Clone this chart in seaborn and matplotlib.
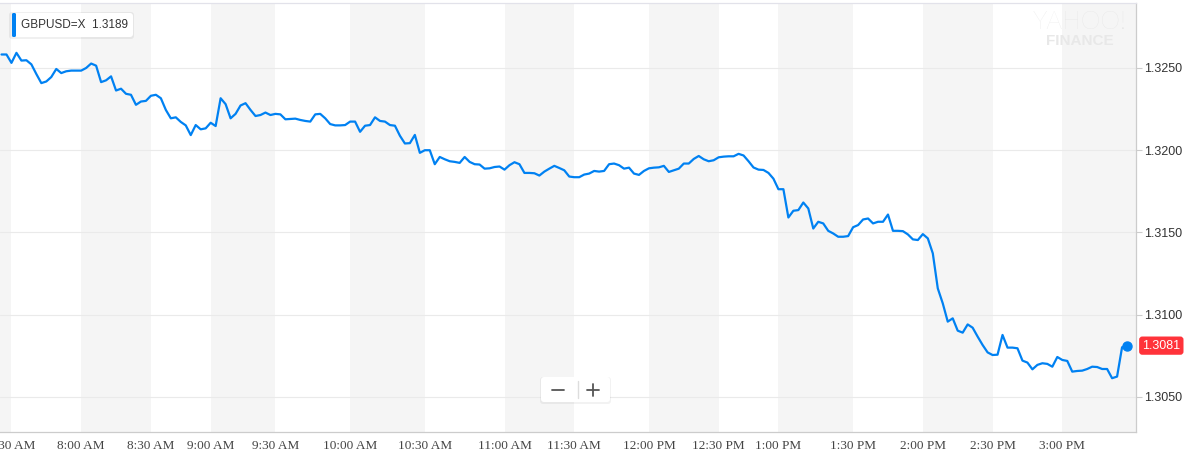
import matplotlib as mpl
mpl.use('Agg')
import matplotlib.pyplot as plt
from matplotlib.patches import FancyBboxPatch
import numpy as np
import pandas as pd
import seaborn as sns

sns.set_style('white')
plt.rcParams['font.family'] = ['Liberation Sans', 'DejaVu Sans']

ticker = 'GBPUSD=X'
prev_close = 1.3189

# one list of quotes per half hour (the 7:00 block is only partly in view)
half_hours = ['7:00 AM', '7:30 AM', '8:00 AM', '8:30 AM', '9:00 AM',
              '9:30 AM', '10:00 AM', '10:30 AM', '11:00 AM', '11:30 AM',
              '12:00 PM', '12:30 PM', '1:00 PM', '1:30 PM', '2:00 PM',
              '2:30 PM', '3:00 PM']

q_0700 = [1.32582, 1.32582]
q_0730 = [1.32531, 1.32592, 1.32545, 1.32547, 1.32522, 1.32463, 1.32408,
          1.32418, 1.32445, 1.32494, 1.32469, 1.32480, 1.32484, 1.32484]
q_0800 = [1.32484, 1.32500, 1.32527, 1.32514, 1.32414, 1.32425, 1.32449,
          1.32363, 1.32374, 1.32343, 1.32337, 1.32276, 1.32296, 1.32300]
q_0830 = [1.32331, 1.32337, 1.32316, 1.32245, 1.32194, 1.32200, 1.32172,
          1.32151, 1.32092, 1.32153, 1.32127, 1.32133]
q_0900 = [1.32167, 1.32147, 1.32316, 1.32280, 1.32194, 1.32221, 1.32272,
          1.32286, 1.32245, 1.32208, 1.32214, 1.32229, 1.32214]
q_0930 = [1.32221, 1.32218, 1.32188, 1.32190, 1.32192, 1.32184, 1.32178,
          1.32174, 1.32218, 1.32221, 1.32194, 1.32159, 1.32151, 1.32151,
          1.32153]
q_1000 = [1.32174, 1.32174, 1.32112, 1.32149, 1.32153, 1.32200, 1.32178,
          1.32174, 1.32153, 1.32149, 1.32088, 1.32041, 1.32043, 1.32093,
          1.31984]
q_1030 = [1.32000, 1.32000, 1.31915, 1.31959, 1.31945, 1.31933, 1.31929,
          1.31923, 1.31959, 1.31929, 1.31915, 1.31913, 1.31888, 1.31890,
          1.31898, 1.31901]
q_1100 = [1.31882, 1.31909, 1.31927, 1.31915, 1.31862, 1.31862, 1.31860,
          1.31846, 1.31870, 1.31888, 1.31905, 1.31892, 1.31878, 1.31840]
q_1130 = [1.31836, 1.31836, 1.31852, 1.31858, 1.31874, 1.31870, 1.31874,
          1.31915, 1.31919, 1.31909, 1.31888, 1.31894, 1.31858, 1.31850,
          1.31874]
q_1200 = [1.31890, 1.31894, 1.31896, 1.31905, 1.31868, 1.31878, 1.31888,
          1.31919, 1.31919, 1.31947, 1.31965, 1.31945, 1.31933, 1.31939]
q_1230 = [1.31957, 1.31961, 1.31963, 1.31963, 1.31978, 1.31968, 1.31933,
          1.31895, 1.31882, 1.31880, 1.31862, 1.31827]
q_1300 = [1.31763, 1.31763, 1.31591, 1.31632, 1.31636, 1.31682, 1.31646,
          1.31524, 1.31565, 1.31555, 1.31510, 1.31494, 1.31474, 1.31474,
          1.31478]
q_1330 = [1.31532, 1.31545, 1.31579, 1.31585, 1.31555, 1.31565, 1.31565,
          1.31609, 1.31510, 1.31510, 1.31508, 1.31488, 1.31458, 1.31454]
q_1400 = [1.31490, 1.31464, 1.31373, 1.31160, 1.31069, 1.30958, 1.30978,
          1.30903, 1.30891, 1.30941, 1.30921, 1.30867, 1.30816, 1.30771]
q_1430 = [1.30755, 1.30757, 1.30877, 1.30800, 1.30800, 1.30796, 1.30721,
          1.30709, 1.30668, 1.30695, 1.30705, 1.30701, 1.30684, 1.30743]
q_1500 = [1.30725, 1.30719, 1.30654, 1.30658, 1.30660, 1.30670, 1.30684,
          1.30682, 1.30670, 1.30670, 1.30614, 1.30624, 1.30802, 1.30812]

y_ticks = [1.3050, 1.3100, 1.3150, 1.3200, 1.3250]

blocks = [q_0700, q_0730, q_0800, q_0830, q_0900, q_0930, q_1000, q_1030,
          q_1100, q_1130, q_1200, q_1230, q_1300, q_1330, q_1400, q_1430,
          q_1500]
prices = np.concatenate(blocks)
starts = np.cumsum([0] + [len(b) for b in blocks[:-1]])
df = pd.DataFrame({'slot': np.arange(len(prices)), 'price': prices})

W, H = 1185, 457
fig = plt.figure(figsize=(W / 100, H / 100), dpi=100)
fig.patch.set_facecolor('white')
ax = fig.add_axes([0, 25 / H, 1136 / W, 429 / H])
x_min, x_max = -0.3, 227.8
ax.set_xlim(x_min, x_max)
ax.set_ylim(1.30287, 1.32895)

# alternating half-hour shading
for k, lab in enumerate(half_hours):
    if ':00' in lab:
        lo = starts[k] if k > 0 else x_min - 1
        hi = starts[k + 1] if k + 1 < len(starts) else x_max + 1
        ax.axvspan(lo, hi, color='#f5f5f5', lw=0, zorder=0)

sns.lineplot(data=df, x='slot', y='price', ax=ax, color='#0081f2',
             linewidth=1.6, zorder=3)
ax.plot(df['slot'].iloc[-1], df['price'].iloc[-1], 'o', color='#0081f2',
        markersize=6.5, zorder=4, clip_on=False)

ax.set_axisbelow(True)
ax.set_yticks(y_ticks)
ax.set_yticklabels(['{:.4f}'.format(v) for v in y_ticks])
ax.yaxis.grid(True, color='#eaeaea', linewidth=0.8)
ax.xaxis.grid(False)
ax.yaxis.tick_right()
ax.tick_params(axis='y', length=4, width=0.8, color='#cccccc',
               labelcolor='#333333', labelsize=9, pad=2)

ax.set_xticks(starts[1:])
ax.set_xticklabels(half_hours[1:], family='Liberation Serif', fontsize=9.5)
ax.tick_params(axis='x', length=4, width=0.8, color='#cccccc',
               labelcolor='#444444', pad=2)
ax.set_xlabel('')
ax.set_ylabel('')

ax.spines['left'].set_visible(False)
ax.spines['top'].set_color('#e2e2ea')
ax.spines['right'].set_color('#cccccc')
ax.spines['bottom'].set_color('#cccccc')
for sp in ax.spines.values():
    sp.set_linewidth(0.9)

# last price tag
ax.annotate('{:.4f}'.format(df['price'].iloc[-1]),
            xy=(1.0, df['price'].iloc[-1]), xycoords=ax.get_yaxis_transform(),
            xytext=(4.5, 0), textcoords='offset points', ha='left',
            va='center', color='white', fontsize=9,
            bbox=dict(boxstyle='round,pad=0.25,rounding_size=0.25',
                      fc='#ff333a', ec='none'))

# overlay in pixel coordinates for the legend, logo and zoom buttons
ov = fig.add_axes([0, 0, 1, 1], zorder=10)
ov.set_xlim(0, W)
ov.set_ylim(H, 0)
ov.axis('off')
ov.patch.set_alpha(0)

ov.add_patch(FancyBboxPatch((9, 12), 125, 27,
                            boxstyle='round,pad=0,rounding_size=3',
                            fc=(0, 0, 0, 0.06), ec='none'))
ov.add_patch(FancyBboxPatch((12, 13), 121, 24,
                            boxstyle='round,pad=0,rounding_size=3',
                            fc='white', ec='none'))
ov.add_patch(FancyBboxPatch((12, 13), 4, 24,
                            boxstyle='round,pad=0,rounding_size=1.5',
                            fc='#0081f2', ec='none'))
ov.text(21, 25.5, '{}  {}'.format(ticker, prev_close), ha='left',
        va='center', fontsize=8.5, color='#333333')

ov.text(1080, 22, 'YAHOO!', ha='center', va='center', fontsize=18,
        family='Lato', weight='light', color='#e2e2e2')
ov.text(1080, 41, 'FINANCE', ha='center', va='center', fontsize=11,
        weight='bold', color='#e8e8e8')

ov.add_patch(FancyBboxPatch((540, 377), 71, 27,
                            boxstyle='round,pad=0,rounding_size=3',
                            fc=(0, 0, 0, 0.05), ec='none'))
ov.add_patch(FancyBboxPatch((541, 377), 69, 25,
                            boxstyle='round,pad=0,rounding_size=3',
                            fc='white', ec='none'))
ov.plot([552, 564], [389.5, 389.5], color='#555555', lw=1.3)
ov.plot([587, 599], [389.5, 389.5], color='#555555', lw=1.3)
ov.plot([593, 593], [383.5, 395.5], color='#555555', lw=1.3)
ov.plot([578, 578], [381, 398], color='#dddddd', lw=1)

fig.savefig('out.png', dpi=100, facecolor='white')
plt.close()
